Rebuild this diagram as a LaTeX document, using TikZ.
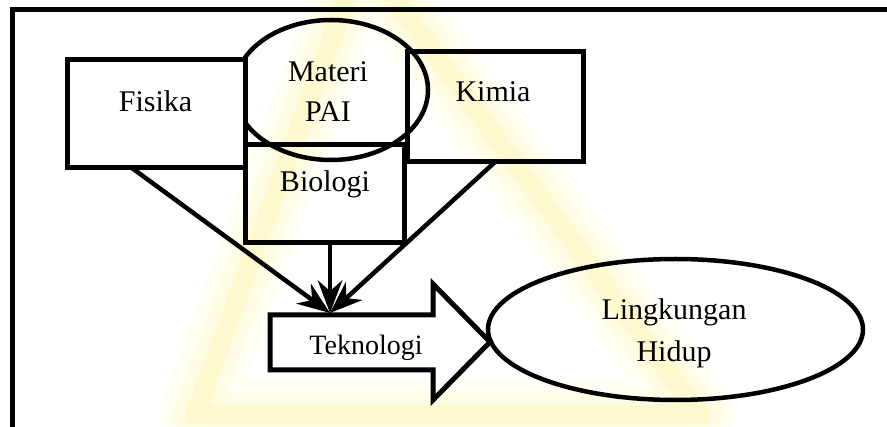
\documentclass[tikz,border=0pt]{standalone}
\usepackage{fontspec}
\setmainfont{Liberation Serif}
\usetikzlibrary{arrows.meta,shapes.geometric,calc}
\definecolor{wm}{RGB}{255,235,90}
\begin{document}
\begin{tikzpicture}[x=1pt,y=-1pt,
  shapebox/.style={draw, line width=5pt, rectangle, inner sep=0pt, outer sep=0pt},
  oval/.style={draw, line width=4.5pt, ellipse, inner sep=0pt, outer sep=0pt},
  lbl/.style={font=\fontsize{30}{40}\selectfont, inner sep=0pt, anchor=base},
  conn/.style={line width=4.5pt, -{Stealth[scale=1.4]}},
  wmline/.style={wm, line join=round}]
\useasboundingbox (0,0) rectangle (887,427);
% watermark
\begin{scope}
\clip (0,0) rectangle (887,427);
\draw[wmline, opacity=.07, line width=70pt] (362,-45) -- (195,415) -- (700,415) -- cycle;
\draw[wmline, opacity=.1, line width=44pt] (362,-45) -- (195,415) -- (700,415) -- cycle;
\draw[wmline, opacity=.15, line width=20pt] (362,-45) -- (195,415) -- (700,415) -- cycle;
\end{scope}
% frame
\draw[line width=5.5pt] (12.5,427) -- (12.5,9.5) -- (887,9.5);
% shapes
\node[oval, minimum width=194pt, minimum height=140pt] (mat) at (331,90) {};
\node[shapebox, fill=white, minimum width=178pt, minimum height=108pt] (fis) at (156,114) {};
\node[shapebox, minimum width=176pt, minimum height=110pt] (kim) at (495,107) {};
\node[shapebox, minimum width=159pt, minimum height=98pt] (bio) at (324.5,194) {};
\node[oval, minimum width=375pt, minimum height=141pt] (lh) at (675.5,329.5) {};
% block arrow
\draw[line width=5pt, line join=miter] (270,315) -- (433,315) -- (433,284) -- (490,342) -- (433,400) -- (433,370) -- (270,370) -- cycle;
\coordinate (conv) at (330,313);
% labels
\node[lbl] (tfis) at (155.5,112) {Fisika};
\node[lbl] (tmat1) at (328,82) {Materi};
\node[lbl] (tmat2) at (328,122) {PAI};
\node[lbl] (tkim) at (493,102) {Kimia};
\node[lbl] (tbio) at (325,192) {Biologi};
\node[lbl, font=\fontsize{28}{34}\selectfont] (ttek) at (366,355) {Teknologi};
\node[lbl] (tlh1) at (674,320) {Lingkungan};
\node[lbl] (tlh2) at (674,362) {Hidup};
% connectors
\draw[conn] ($(fis.south west)!0.365!(fis.south east)$) -- (conv);
\draw[conn] (kim.south) -- (conv);
\draw[conn] (conv |- bio.south) -- (conv);
\end{tikzpicture}
\end{document}
